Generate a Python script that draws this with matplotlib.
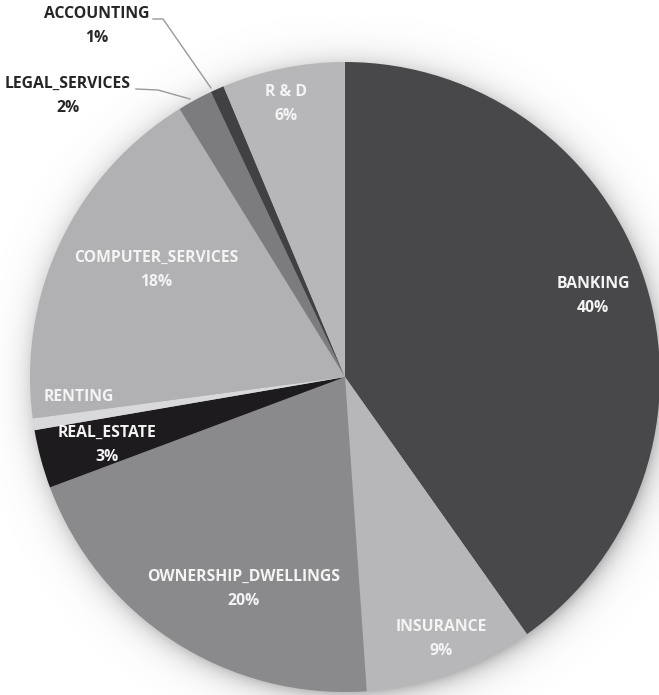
import numpy as np
import matplotlib
matplotlib.use("Agg")
import matplotlib.pyplot as plt

# Sector shares (percent), clockwise from 12 o'clock
sectors = ["BANKING", "INSURANCE", "OWNERSHIP_DWELLINGS", "REAL_ESTATE", "RENTING",
           "COMPUTER_SERVICES", "LEGAL_SERVICES", "ACCOUNTING", "R & D"]
shares = [40.2, 8.7, 20.4, 3.0, 0.6, 18.3, 1.8, 0.7, 6.3]
pct_labels = ["40%", "9%", "20%", "3%", "", "18%", "2%", "1%", "6%"]
colors = ["#48484b", "#b7b7ba", "#8a8a8d", "#1e1b1e", "#d9d9db",
          "#b1b1b4", "#7c7c7f", "#414144", "#b7b7ba"]

W, H = 659, 695
fig = plt.figure(figsize=(W / 100, H / 100), dpi=100)
ax = fig.add_axes([0, 0, 1, 1])

cx, cy, r = 345, H - 377, 315

# soft drop shadow behind the pie
yy, xx = np.mgrid[0:H, 0:W]
d = np.hypot(xx + 0.5 - (cx + 3), (H - yy - 0.5) - (cy - 4))
alpha = np.where(d > r - 5, 0.5 * np.exp(-np.clip(d - r + 5, 0, None) / 12.0), 0.5)
shadow = np.zeros((H, W, 4))
shadow[..., :3] = 0.42
shadow[..., 3] = alpha
ax.imshow(shadow, extent=(0, W, 0, H), origin="upper", zorder=0, interpolation="bilinear")

ax.pie(shares, colors=colors, startangle=90, counterclock=False,
       center=(cx, cy), radius=r, wedgeprops=dict(linewidth=0),
       frame=False)
for p in ax.patches:
    p.set_zorder(2)

ax.set_xlim(0, W)
ax.set_ylim(0, H)
ax.set_aspect("equal")
ax.axis("off")

font = dict(family=["Open Sans", "DejaVu Sans"], fontweight="bold", fontsize=11.3)

# inside labels (name, percent) at label centres
inside = {
    "BANKING": (593, 296),
    "INSURANCE": (441, 639),
    "OWNERSHIP_DWELLINGS": (244, 589),
    "REAL_ESTATE": (107, 445),
    "RENTING": (79, 397),
    "COMPUTER_SERVICES": (156, 270),
    "R & D": (286, 104),
}
for name, pct in zip(sectors, pct_labels):
    if name in inside:
        x, y = inside[name]
        txt = name if not pct else f"{name}\n{pct}"
        ax.text(x, H - y, txt, ha="center", va="center", color="#f4f4f4",
                linespacing=1.65, zorder=5, **font)

# outside labels with leader lines
outside = {
    "LEGAL_SERVICES": ((68, 96), [(136, 89), (158, 90), (190, 99)]),
    "ACCOUNTING": ((97, 26), [(153, 19), (163, 19), (211, 88)]),
}
for name, pct in zip(sectors, pct_labels):
    if name in outside:
        (x, y), pts = outside[name]
        ax.text(x, H - y, f"{name}\n{pct}", ha="center", va="center", color="#262626",
                linespacing=1.65, zorder=5, **font)
        px, py = zip(*pts)
        ax.plot(px, [H - v for v in py], color="#9a9a9a", lw=1.0, zorder=4)

fig.savefig("out.png", dpi=100)
